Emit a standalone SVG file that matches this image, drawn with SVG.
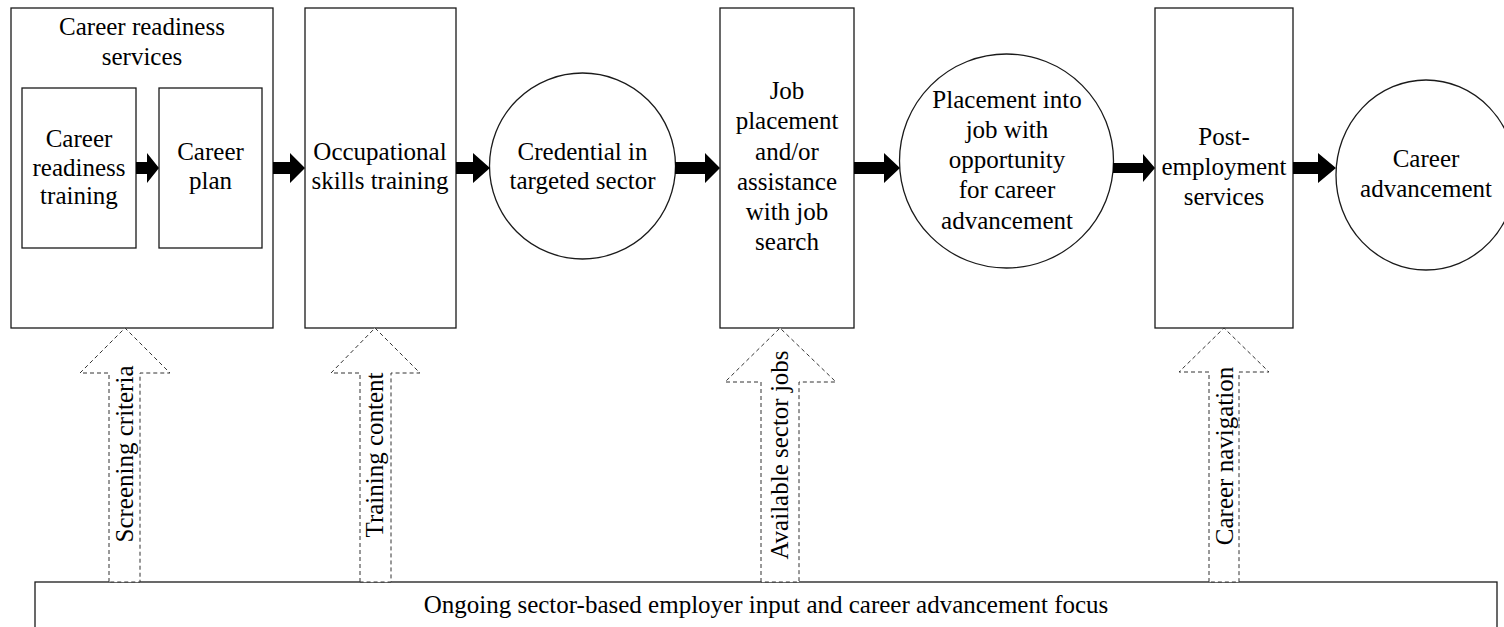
<svg xmlns="http://www.w3.org/2000/svg" width="1504" height="627" viewBox="0 0 1504 627">
  <style>
    .box { fill: #ffffff; stroke: #1a1a1a; stroke-width: 1.3; }
    .flow { fill: #000000; stroke: none; }
    .input { fill: #ffffff; stroke: #333333; stroke-width: 1; stroke-dasharray: 4 3; }
    text { font-size: 25px; fill: #000000; text-anchor: middle; }
  </style>
  <rect width="1504" height="627" fill="#ffffff"/>

  <g font-family="Liberation Serif, DejaVu Serif, serif">
  <!-- Bottom band: employer input -->
  <g id="employer-input">
    <rect class="box" x="35" y="582" width="1462" height="70"/>
    <text x="766" y="613">Ongoing sector-based employer input and career advancement focus</text>
  </g>

  <!-- Top row of program stages -->
  <g id="career-readiness-services">
    <rect class="box" x="11" y="8" width="262" height="320"/>
    <text x="142" y="35">Career readiness</text>
    <text x="142" y="65">services</text>
  </g>
  <g id="career-readiness-training">
    <rect class="box" x="22" y="88" width="114" height="160"/>
    <text x="79" y="147">Career</text>
    <text x="79" y="176">readiness</text>
    <text x="79" y="204">training</text>
  </g>
  <g id="career-plan">
    <rect class="box" x="159" y="88" width="103" height="160"/>
    <text x="210.5" y="160">Career</text>
    <text x="210.5" y="189">plan</text>
  </g>
  <g id="occupational-skills">
    <rect class="box" x="305" y="8" width="151" height="320"/>
    <text x="380" y="160">Occupational</text>
    <text x="380" y="189">skills training</text>
  </g>
  <g id="credential">
    <circle class="box" cx="582.5" cy="166" r="93"/>
    <text x="582.5" y="160">Credential in</text>
    <text x="582.5" y="189">targeted sector</text>
  </g>
  <g id="job-placement">
    <rect class="box" x="720" y="8" width="134" height="320"/>
    <text x="787" y="99">Job</text>
    <text x="787" y="129">placement</text>
    <text x="787" y="160">and/or</text>
    <text x="787" y="190">assistance</text>
    <text x="787" y="220">with job</text>
    <text x="787" y="250">search</text>
  </g>
  <g id="placement-into-job">
    <circle class="box" cx="1006.5" cy="161" r="107"/>
    <text x="1007" y="108">Placement into</text>
    <text x="1007" y="138">job with</text>
    <text x="1007" y="168">opportunity</text>
    <text x="1007" y="198">for career</text>
    <text x="1007" y="229">advancement</text>
  </g>
  <g id="post-employment">
    <rect class="box" x="1155" y="8" width="138" height="320"/>
    <text x="1224" y="145">Post-</text>
    <text x="1224" y="175">employment</text>
    <text x="1224" y="205">services</text>
  </g>
  <g id="career-advancement">
    <ellipse class="box" cx="1426" cy="175" rx="90" ry="95"/>
    <text x="1426" y="167">Career</text>
    <text x="1426" y="197">advancement</text>
  </g>

  <!-- Connectors: solid flow arrows and dashed input arrows -->
  <g id="connectors">
    <polygon class="flow" points="136,162 147,162 147,153 159,168 147,183 147,174 136,174"/>
    <polygon class="flow" points="273,162 290,162 290,153 305,168 290,183 290,174 273,174"/>
    <polygon class="flow" points="456,162 473,162 473,153 490,168 473,183 473,174 456,174"/>
    <polygon class="flow" points="675,162 705,162 705,153 720,168 705,183 705,174 675,174"/>
    <polygon class="flow" points="854,162 884,162 884,153 900,168 884,183 884,174 854,174"/>
    <polygon class="flow" points="1113,163 1143,163 1143,154 1155,168 1143,182 1143,173 1113,173"/>
    <polygon class="flow" points="1293,162 1318,162 1318,153 1336,168 1318,183 1318,174 1293,174"/>

    <g id="input-screening">
      <polygon class="input" points="109,582 109,373 80,373 125,328 170,373 140,373 140,582"/>
      <text transform="translate(133,454) rotate(-90)">Screening criteria</text>
    </g>
    <g id="input-training">
      <polygon class="input" points="360,582 360,373 331,373 375,328 420,373 391,373 391,582"/>
      <text transform="translate(383,455) rotate(-90)">Training content</text>
    </g>
    <g id="input-jobs">
      <polygon class="input" points="761,582 761,382 725,382 780,328 836,382 799,382 799,582"/>
      <text transform="translate(788,455) rotate(-90)">Available sector jobs</text>
    </g>
    <g id="input-navigation">
      <polygon class="input" points="1209,582 1209,372 1179,372 1224,328 1269,372 1239,372 1239,582"/>
      <text transform="translate(1233,456) rotate(-90)">Career navigation</text>
    </g>
  </g>
  </g>
</svg>
